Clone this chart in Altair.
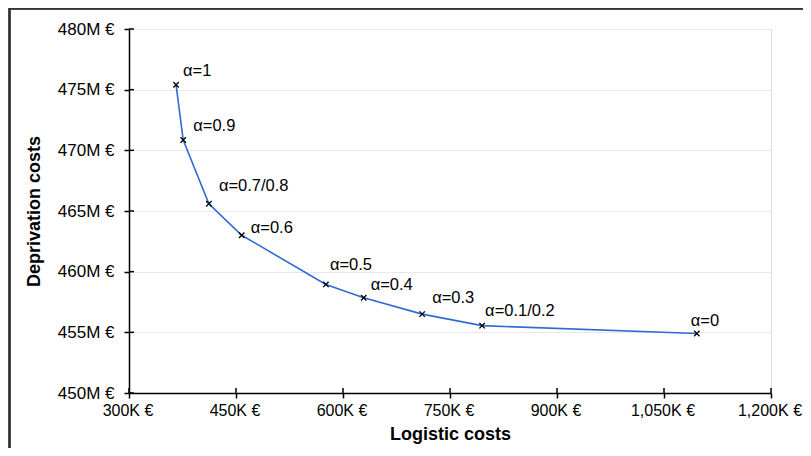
import altair as alt
import pandas as pd

# Data
labels = ["α=1", "α=0.9", "α=0.7/0.8", "α=0.6", "α=0.5", "α=0.4", "α=0.3", "α=0.1/0.2", "α=0"]
logistic_k = [366, 376, 412, 458, 576, 629, 711, 795, 1096]
deprivation_m = [475.4, 470.85, 465.6, 463.0, 458.95, 457.85, 456.5, 455.55, 454.9]
x_ticks = [300, 450, 600, 750, 900, 1050, 1200]
y_ticks = [450, 455, 460, 465, 470, 475, 480]

df = pd.DataFrame({"label": labels, "x": logistic_k, "y": deprivation_m, "order": list(range(len(labels)))})

FONT = "Liberation Sans"
W, H = 642, 364

xscale = alt.Scale(domain=[300, 1200], nice=False, zero=False)
yscale = alt.Scale(domain=[450, 480], nice=False, zero=False)

xenc = alt.X("x:Q", scale=xscale, title="Logistic costs",
             axis=alt.Axis(values=x_ticks, grid=False,
                           labelExpr="(datum.value >= 1000 ? format(datum.value, ',') : datum.value) + 'K €'",
                           domainColor="black", domainWidth=1.5, tickColor="black", tickWidth=1.5, tickSize=5,
                           labelFont=FONT, labelFontSize=16, labelColor="black", labelPadding=4,
                           labelOffset=-1.5,
                           titleFont=FONT, titleFontSize=18, titleFontWeight="bold", titleColor="black",
                           titlePadding=7, labelFlush=False))
yenc = alt.Y("y:Q", scale=yscale, title="Deprivation costs",
             axis=alt.Axis(values=y_ticks, grid=True, gridColor="#e8e8e8", gridWidth=1,
                           labelExpr="datum.value + 'M €'",
                           domainColor="black", domainWidth=1.5, tickColor="black", tickWidth=1.5, tickSize=5,
                           labelFont=FONT, labelFontSize=17, labelColor="black", labelPadding=10,
                           titleFont=FONT, titleFontSize=18, titleFontWeight="bold", titleColor="black",
                           titlePadding=14))

base = alt.Chart(df)

line = base.mark_line(color="#2f6bd4", strokeWidth=1.6).encode(x=xenc, y=yenc, order="order:Q")
pts = base.mark_point(shape="M-1,-1L1,1M-1,1L1,-1", filled=False, stroke="black", strokeWidth=1.3, size=30,
                      opacity=1).encode(x="x:Q", y="y:Q")

# inner half of crossing ticks
xt = pd.DataFrame({"x": x_ticks})
yt = pd.DataFrame({"y": y_ticks})
xin = alt.Chart(xt).mark_rule(color="black", strokeWidth=1.5).encode(
    x="x:Q", y=alt.value(H), y2=alt.value(H - 5))
yin = alt.Chart(yt).mark_rule(color="black", strokeWidth=1.5).encode(
    y="y:Q", x=alt.value(0), x2=alt.value(5))

offsets = {
    "α=1": (7, -14), "α=0.9": (10, -14), "α=0.7/0.8": (10, -18), "α=0.6": (9, -7),
    "α=0.5": (4, -19), "α=0.4": (7, -13), "α=0.3": (10, -16), "α=0.1/0.2": (3, -15), "α=0": (-6, -13),
}
texts = []
for lab in labels:
    dx, dy = offsets[lab]
    texts.append(base.transform_filter(alt.datum.label == lab).mark_text(
        align="left", baseline="middle", dx=dx, dy=dy, font=FONT, fontSize=16.5, color="black"
    ).encode(x="x:Q", y="y:Q", text="label:N"))

# outer frame lines (left and top)
frame_left = alt.Chart(xt).mark_rule(color="#333333", strokeWidth=1.5).encode(
    x=alt.value(-119.5), y=alt.value(-30), y2=alt.value(H + 80))
frame_top = alt.Chart(xt).mark_rule(color="#333333", strokeWidth=1.5).encode(
    x=alt.value(-120), x2=alt.value(W + 60), y=alt.value(-20.5))

chart = alt.layer(line, xin, yin, pts, *texts, frame_left, frame_top).properties(
    width=W, height=H,
    autosize=alt.AutoSizeParams(type="none"),
    padding={"left": 121, "top": 21, "right": 32, "bottom": 55},
).configure_view(stroke=None).configure(background="white")

chart.save("out.html", embed_options={"renderer": "svg", "actions": False})
